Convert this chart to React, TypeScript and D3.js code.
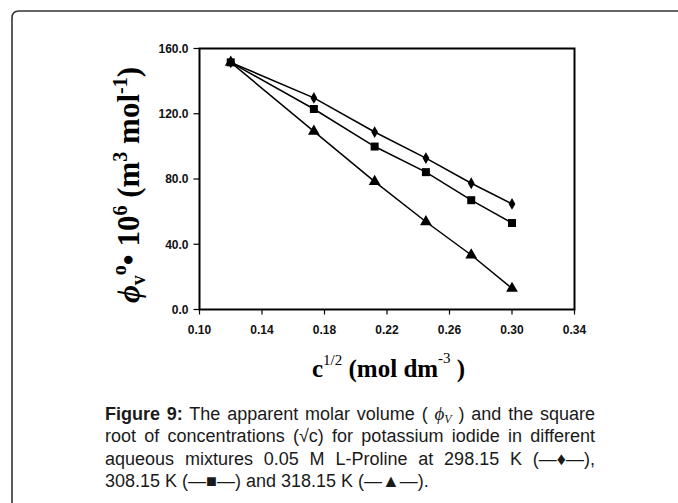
import React, { useLayoutEffect, useRef } from "react";
import * as d3 from "d3";

const xValues = [0.12, 0.1732, 0.2121, 0.2449, 0.2739, 0.3];
const series298 = [151.5, 129.7, 108.8, 92.8, 77.4, 64.7];
const series308 = [151.5, 122.9, 99.9, 84.2, 67.0, 53.0];
const series318 = [151.5, 109.2, 78.4, 53.8, 33.4, 12.9];
const xTicks = [0.1, 0.14, 0.18, 0.22, 0.26, 0.3, 0.34];
const yTicks = [0, 40, 80, 120, 160];

const W = 678;
const H = 503;
const left = 199.5;
const right = 574.5;
const top = 48.5;
const bottom = 309.5;

const capLeft = 105;
const capRight = 595;

export default function App() {
  const x = d3.scaleLinear().domain([0.1, 0.34]).range([left, right]);
  const y = d3.scaleLinear().domain([0, 160]).range([bottom, top]);
  const line = d3
    .line<number>()
    .x((_, i) => x(xValues[i]))
    .y((d) => y(d));

  const diamond = d3.symbol().type(d3.symbolDiamond).size(40)()!;
  const square = d3.symbol().type(d3.symbolSquare).size(64)()!;
  const triangle = d3.symbol().type(d3.symbolTriangle).size(60)()!;

  const series = [
    { data: series298, path: diamond },
    { data: series308, path: square },
    { data: series318, path: triangle },
  ];

  const capFont = "Arial, 'Liberation Sans', sans-serif";
  const serif = "'Times New Roman', 'Liberation Serif', serif";

  const l1 = useRef<SVGTextElement>(null);
  const l2 = useRef<SVGTextElement>(null);
  const l3 = useRef<SVGTextElement>(null);

  useLayoutEffect(() => {
    [l1, l2, l3].forEach((r) => {
      const el = r.current;
      if (!el) return;
      el.removeAttribute("word-spacing");
      const natural = el.getComputedTextLength();
      const txt = el.textContent || "";
      const spaces = (txt.match(/ /g) || []).length;
      const extra = (capRight - capLeft - natural) / Math.max(1, spaces);
      el.setAttribute("word-spacing", String(extra));
    });
  }, []);

  return (
    <svg
      width={W}
      height={H}
      style={{ position: "absolute", left: 0, top: 0, background: "#fff" }}
    >
      {/* frame */}
      <path
        d={`M12,${H + 5} L12,18 Q12,11 19,11 L${W + 5},11`}
        fill="none"
        stroke="#333"
        strokeWidth={1.6}
      />
      {/* plot box */}
      <rect
        x={left}
        y={top}
        width={right - left}
        height={bottom - top}
        fill="none"
        stroke="#000"
        strokeWidth={2}
      />
      {/* y ticks */}
      {yTicks.map((t) => (
        <g key={"y" + t}>
          <line x1={left - 6} x2={left} y1={y(t)} y2={y(t)} stroke="#000" strokeWidth={1.2} />
          <text
            x={left - 11}
            y={y(t)}
            dy="0.36em"
            textAnchor="end"
            fontFamily={capFont}
            fontWeight="bold"
            fontSize={12}
            fill="#111"
          >
            {t.toFixed(1)}
          </text>
        </g>
      ))}
      {/* x ticks */}
      {xTicks.map((t) => (
        <g key={"x" + t}>
          <line x1={x(t)} x2={x(t)} y1={bottom} y2={bottom + 5} stroke="#000" strokeWidth={1.2} />
          <text
            x={x(t)}
            y={334}
            textAnchor="middle"
            fontFamily={capFont}
            fontWeight="bold"
            fontSize={12}
            fill="#111"
          >
            {t.toFixed(2)}
          </text>
        </g>
      ))}
      {/* series */}
      {series.map((s, si) => (
        <g key={si}>
          <path d={line(s.data)!} fill="none" stroke="#000" strokeWidth={1.5} />
          {s.data.map((v, i) => (
            <path
              key={i}
              d={s.path}
              transform={`translate(${x(xValues[i])},${y(v)})`}
              fill="#000"
            />
          ))}
        </g>
      ))}
      {/* y title */}
      <text
        transform="translate(139,185) rotate(-90)"
        textAnchor="middle"
        fontFamily={serif}
        fontWeight="bold"
        fontSize={31}
        fill="#000"
      >
        <tspan fontStyle="italic">ϕ</tspan>
        <tspan fontSize={20} dy={6}>v</tspan>
        <tspan fontSize={20} dy={-19}>o</tspan>
        <tspan dy={13}>• 10</tspan>
        <tspan fontSize={20} dy={-12}>6</tspan>
        <tspan dy={12}> (m</tspan>
        <tspan fontSize={20} dy={-12}>3</tspan>
        <tspan dy={12}> mol</tspan>
        <tspan fontSize={20} dy={-12}>-1</tspan>
        <tspan dy={12}>)</tspan>
      </text>
      {/* x title */}
      <text
        x={312}
        y={377}
        fontFamily={serif}
        fontWeight="bold"
        fontSize={25}
        fill="#000"
      >
        <tspan>c</tspan>
        <tspan fontSize={15} fontWeight="normal" dy={-12}>1/2</tspan>
        <tspan dy={12}> (mol dm</tspan>
        <tspan fontSize={15} fontWeight="normal" dy={-14}>-3</tspan>
        <tspan dy={14}> )</tspan>
      </text>
      {/* caption */}
      <g fontFamily={capFont} fontSize={18} fill="#1a1a1a">
        <text ref={l1} x={capLeft} y={419.5}>
          <tspan fontWeight="bold">Figure 9:</tspan>
          <tspan> The apparent molar volume ( </tspan>
          <tspan fontFamily={serif} fontStyle="italic" fontSize={19}>ϕ</tspan>
          <tspan fontFamily={serif} fontStyle="italic" fontSize={12} dy={3}>V</tspan>
          <tspan dy={-3}> ) and the square</tspan>
        </text>
        <text ref={l2} x={capLeft} y={442}>
          root of concentrations (√c) for potassium iodide in different
        </text>
        <text ref={l3} x={capLeft} y={464.5}>
          aqueous mixtures 0.05 M L-Proline at 298.15 K (—♦—),
        </text>
        <text x={capLeft} y={487}>
          308.15 K (—■—) and 318.15 K (—▲—).
        </text>
      </g>
    </svg>
  );
}
